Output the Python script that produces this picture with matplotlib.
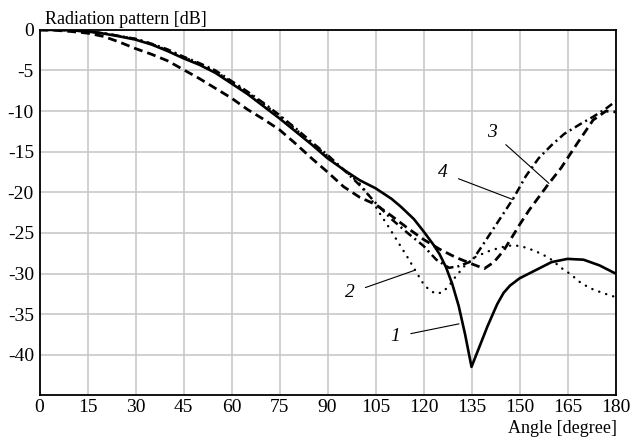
import matplotlib
matplotlib.use("Agg")
import matplotlib.pyplot as plt

plt.rcParams["axes.unicode_minus"] = False

# ---- data ----
ang1 = [0, 5, 10, 15, 20, 25, 30, 35, 40, 45, 50, 55, 60, 65, 70, 75, 80, 85, 90, 95,
        100, 105, 110, 113, 117, 120, 123, 125, 127, 129, 131, 133, 135, 137, 140, 143,
        145, 147, 150, 155, 160, 165, 170, 175, 180]
val1 = [0, 0, -0.05, -0.2, -0.45, -0.8, -1.2, -1.8, -2.6, -3.5, -4.3, -5.3, -6.6, -7.9,
        -9.4, -10.9, -12.5, -14.1, -15.8, -17.2, -18.5, -19.5, -20.8, -21.8, -23.3, -24.8,
        -26.4, -27.6, -29.2, -31.3, -34.0, -37.5, -41.5, -39.5, -36.5, -33.8, -32.4, -31.5,
        -30.6, -29.6, -28.6, -28.2, -28.3, -29.0, -30.0]

ang2 = [0, 5, 10, 15, 20, 25, 30, 35, 40, 45, 50, 55, 60, 65, 70, 75, 80, 85, 90, 95,
        100, 103, 106, 109, 112, 115, 118, 120, 122, 124, 126, 128, 130, 133, 136, 140,
        144, 148, 151, 154, 157, 160, 163, 166, 169, 172, 176, 180]
val2 = [0, 0, -0.05, -0.2, -0.4, -0.75, -1.1, -1.7, -2.5, -3.3, -4.2, -5.1, -6.4, -7.7,
        -9.1, -10.6, -12.2, -13.9, -15.5, -17.2, -18.9, -20.4, -22.4, -24.2, -26.1, -28.0,
        -30.0, -31.3, -32.1, -32.5, -32.3, -31.5, -30.4, -29.0, -28.0, -27.3, -26.8, -26.5,
        -26.7, -27.1, -27.6, -28.3, -29.3, -30.1, -31.1, -31.8, -32.4, -32.9]

ang3 = [0, 5, 10, 15, 20, 25, 30, 35, 40, 45, 50, 55, 60, 65, 70, 75, 80, 85, 90, 95,
        100, 105, 110, 115, 120, 125, 130, 135, 139, 142, 145, 148, 150, 153, 156, 159,
        163, 168, 173, 177, 180]
val3 = [0, -0.05, -0.2, -0.4, -0.8, -1.5, -2.3, -3.0, -3.8, -4.9, -6.0, -7.2, -8.4, -9.8,
        -11.0, -12.3, -14.0, -15.8, -17.5, -19.3, -20.6, -21.5, -22.9, -24.4, -25.8, -27.0,
        -28.0, -28.8, -29.4, -28.6, -27.2, -25.3, -24.0, -22.2, -20.6, -19.0, -17.0, -14.0,
        -11.1, -10.0, -10.1]

ang4 = [0, 5, 10, 15, 20, 25, 30, 35, 40, 45, 50, 55, 60, 65, 70, 75, 80, 85, 90, 95,
        100, 105, 110, 115, 120, 124, 128, 131, 135, 138, 141, 144, 148, 152, 156, 160,
        164, 169, 173, 177, 180]
val4 = [0, 0, -0.05, -0.2, -0.4, -0.75, -1.1, -1.7, -2.4, -3.3, -4.1, -5.0, -6.3, -7.6,
        -9.0, -10.5, -12.1, -13.8, -15.4, -17.2, -19.1, -21.3, -23.3, -25.0, -26.6, -28.3,
        -29.3, -29.1, -28.5, -26.8, -25.0, -23.2, -20.8, -18.0, -15.8, -14.2, -12.8, -11.6,
        -10.7, -9.7, -8.8]

labels = ["1", "2", "3", "4"]
xticks = list(range(0, 181, 15))
yticks = list(range(0, -45, -5))

# ---- plot ----
W, H = 632, 441
fig = plt.figure(figsize=(W / 100, H / 100), dpi=100)
ax = fig.add_axes([39.5 / W, 1 - 395.3 / H, (615.5 - 39.5) / W, (395.3 - 29.9) / H])

ax.plot(ang1, val1, color="black", lw=1.9, ls="-", solid_joinstyle="round")
ax.plot(ang2, val2, color="black", lw=1.7, ls=(0, (0.1, 3.0)), dash_capstyle="round")
ax.plot(ang3, val3, color="black", lw=2.0, ls=(0, (3.2, 1.8)))
ax.plot(ang4, val4, color="black", lw=1.8, ls=(0, (3.2, 1.6, 0.8, 1.6)))

ax.set_xlim(0, 180)
ax.set_ylim(-45, 0)
ax.set_xticks(xticks)
ax.set_yticks(yticks)
ax.grid(True, color="#c8c8c8", lw=1.2)
ax.set_axisbelow(True)
for s in ax.spines.values():
    s.set_linewidth(1.3)
    s.set_color("black")
ax.tick_params(length=0, labelsize=14)
ax.tick_params(axis="x", pad=3)
ax.tick_params(axis="y", pad=4)
for t in ax.get_xticklabels() + ax.get_yticklabels():
    t.set_fontfamily("Liberation Serif")

fs = 13
serif = "Liberation Serif"
fig.text(45 / W, 1 - 24 / H, "Radiation pattern [dB]", fontsize=fs, family=serif, va="baseline")
fig.text(617 / W, 1 - 433 / H, "Angle [degree]", fontsize=fs, family=serif, ha="right", va="baseline")

ann = {
    "1": ((111.1, -37.8), (131.1, -36.2)),
    "2": ((97.0, -32.4), (117.3, -29.6)),
    "3": ((141.4, -12.6), (159.2, -18.9)),
    "4": ((126.1, -17.6), (148.0, -20.9)),
}
for lab in labels:
    (tx, ty), (px, py) = ann[lab]
    ax.annotate(lab, xy=(px, py), xytext=(tx, ty), fontsize=14, family=serif,
                style="italic", ha="center", va="center",
                arrowprops=dict(arrowstyle="-", color="black", lw=0.8,
                                shrinkA=6, shrinkB=0))

fig.savefig("out.png", dpi=100)
